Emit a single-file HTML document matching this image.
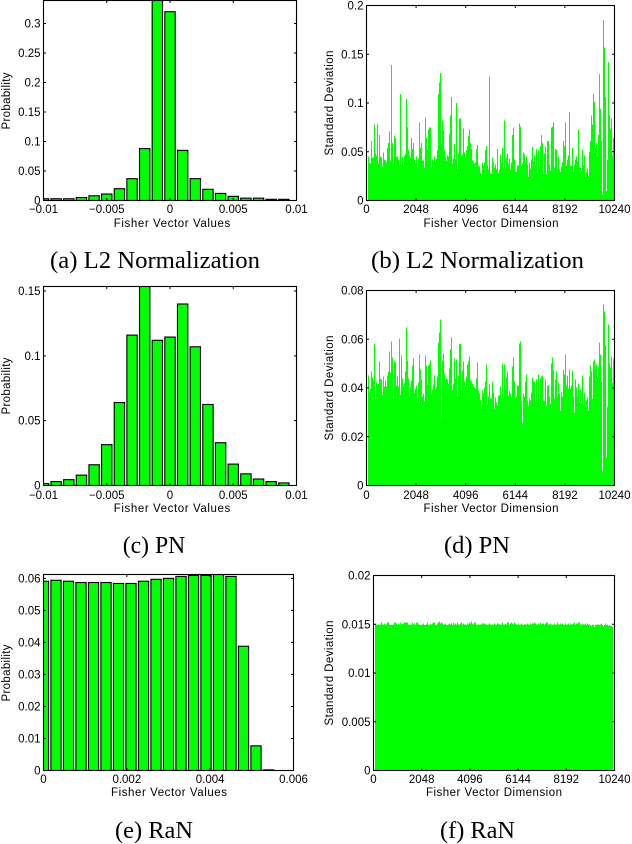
<!DOCTYPE html>
<html lang="en">
<head>
<meta charset="utf-8">
<title>Fisher Vector Normalization Charts</title>
<style>
html,body{margin:0;padding:0;background:#fff;}
svg{display:block;}
.tick{font:11.5px "Liberation Sans",Arial,sans-serif;fill:#000;}
.title{font:11.5px "Liberation Sans",Arial,sans-serif;fill:#000;}
.cap{font:24.5px "Liberation Serif","Times New Roman",serif;fill:#000;}
</style>
</head>
<body>
<svg id="figure" xmlns="http://www.w3.org/2000/svg" width="632" height="844" viewBox="0 0 632 844"></svg>
<script>
// ---------- Data ----------
const binCentersSigned = [-0.010,-0.009,-0.008,-0.007,-0.006,-0.005,-0.004,-0.003,-0.002,-0.001,0,0.001,0.002,0.003,0.004,0.005,0.006,0.007,0.008,0.009];
const binCentersPositive = [0,0.0003,0.0006,0.0009,0.0012,0.0015,0.0018,0.0021,0.0024,0.0027,0.003,0.0033,0.0036,0.0039,0.0042,0.0045,0.0048,0.0051,0.0054];

const probabilityL2 = [0.003,0.003,0.003,0.005,0.008,0.011,0.02,0.037,0.088,0.36,0.32,0.085,0.037,0.019,0.012,0.007,0.004,0.004,0.002,0.002];
const probabilityPN = [0.0015,0.003,0.0045,0.008,0.016,0.0315,0.064,0.116,0.16,0.112,0.1145,0.14,0.107,0.0625,0.033,0.0165,0.009,0.005,0.003,0.002];
const probabilityRaN = [0.0591,0.0594,0.0591,0.0587,0.0587,0.0587,0.0584,0.0584,0.0591,0.0597,0.06,0.0606,0.0609,0.0609,0.0613,0.0606,0.0388,0.0077,0.0002];

const stdL2 = [
.045,.0385,.038,.061,.044,.044,.078,.048,.046,.078,.038,.067,.045,.044,.035,.049,.042,.041,.039,.054,.059,.071,.041,.139,.059,.038,.066,.064,.045,.045,.042,.037,
.109,.037,.045,.036,.046,.048,.104,.075,.052,.046,.044,.064,.053,.059,.042,.038,.045,.034,.043,.08,.054,.059,.041,.041,.034,.085,.064,.052,.073,.075,.075,.034,.042,.041,.045,.039,.043,.052,.109,.121,.131,.058,.082,.072,.052,.045,.041,.046,.045,.068,.087,.106,.038,.043,.058,.042,.1,.032,.048,.084,.084,.045,.047,.074,.049,.044,.052,.056,.066,.073,.059,.053,.041,.04,.038,.039,.053,.057,.036,.035,.028,.027,.039,.036,.039,.052,.056,.037,.032,.127,.028,
.0277,.044,.039,.034,.037,.032,.053,.028,.032,.047,.039,.054,.034,.082,.034,.044,.048,.038,.043,.032,.039,.067,.075,.042,.029,.029,.036,.036,.079,.076,.035,.038,.049,.047,.039,.045,.037,.024,.039,.033,.042,.055,.04,.046,.036,.053,.028,.052,.034,.056,.067,.059,.027,.048,.055,.027,.061,.061,.037,.031,.075,.076,.08,.034,.053,.052,.033,.045,.032,.029,.035,.039,.061,.056,.08,.036,.042,.046,.091,.036,.036,.054,.029,.037,.042,.045,.04,.073,.034,.034,.031,.052,.036,.046,.024,.029,.033,.025,.05,.061,.087,.078,.109,.101,.054,.059,.045,.067,.13,.094,.061,.006,.185,.157,.106,.01,.042,.142,.087,.073,.084,.046,.064
];
const stdPN = [
.0451,.0386,.0398,.0468,.0444,.0431,.058,.0353,.0423,.0411,.0419,.0509,.0439,.0435,.0373,.0447,.0406,.0431,.0406,.0451,.0468,.055,.0464,.0591,.0525,.0353,.0513,.0505,.0411,.0447,.0406,.0603,.0373,.0533,.0439,.0406,.0423,.0468,.0648,.0513,.0439,.0365,.0406,.0431,.0492,.0521,.0382,.0398,.0411,.034,.0423,.0537,.0476,.0435,.0365,.0378,.0345,.0533,.0492,.0414,.0492,.0497,.0513,.0373,.0394,.0414,.0451,.0394,.0406,.0447,.0587,.0628,.0681,.028,.0513,.0541,.046,.0431,.0439,.0435,.0419,.048,.0558,.0607,.0394,.0419,.0521,.0439,.0517,.0365,.0451,.058,.058,.0386,.0472,.0509,.0427,.0406,.0447,.0497,.0509,.0529,.0435,.0427,.0419,.0406,.0402,.0398,.0439,.0505,.039,.0378,.0353,.0316,.039,.0378,.0402,.0427,.0497,.0332,.0365,.0414,.0357,
.0357,.0427,.0382,.0316,.0361,.034,.0328,.0369,.0369,.0406,.0357,.0501,.0361,.0497,.0394,.0443,.0468,.0369,.039,.0378,.0361,.0488,.0525,.0427,.0357,.0365,.041,.041,.0583,.0591,.0349,.0254,.0378,.0365,.0427,.0456,.0349,.0328,.0357,.0349,.0382,.0443,.0427,.0427,.0345,.0435,.034,.0456,.0357,.0439,.0447,.0451,.0349,.0349,.0435,.0328,.041,.041,.0365,.0336,.0501,.0525,.0472,.0357,.0435,.0468,.0365,.0423,.0378,.0308,.0382,.0365,.0476,.0456,.0538,.041,.0451,.0398,.0476,.0398,.041,.0472,.0365,.03,.0435,.0402,.0365,.0418,.034,.0394,.0336,.0451,.0328,.0382,.0324,.0349,.0361,.0308,.0447,.0493,.0468,.0357,.0509,.0517,.048,.0497,.0443,.0488,.0587,.0538,.0427,.0057,.0743,.0714,.0575,.0115,.0324,.0661,.0501,.0484,.053,.0423,.0522
];
const stdRaN = [
.0150,.0150,.0149,.0150,.0149,.0150,.0152,.0150,.0149,.0151,.0150,.0150,.0152,.0152,.0150,.0149,.0149,.0149,.0150,.0152,.0152,.0151,.0149,.0151,.0150,.0152,.0150,.0151,.0151,.0152,.0152,.0152,.0152,.0150,.0149,.0149,.0150,.0152,.0150,.0151,.0149,.0152,.0152,.0150,.0150,.0149,.0149,.0150,.0151,.0149,.0149,.0150,.0152,.0150,.0149,.0151,.0150,.0151,.0152,.0152,.0150,.0149,.0151,.0152,.0153,.0151,.0152,.0151,.0149,.0150,.0151,.0149,.0149,.0150,.0151,.0150,.0151,.0149,.0152,.0150,.0151,.0150,.0152,.0150,.0150,.0151,.0152,.0150,.0151,.0150,.0150,.0149,.0151,.0150,.0152,.0151,.0153,.0151,.0150,.0152,.0152,.0150,.0149,.0150,.0149,.0150,.0150,.0151,.0151,.0151,.0150,.0150,.0149,.0150,.0151,.0150,.0149,.0150,.0149,.0151,
.0150,.0149,.0151,.0151,.0150,.0150,.0149,.0152,.0150,.0150,.0151,.0150,.0152,.0152,.0150,.0151,.0152,.0151,.0150,.0152,.0151,.0150,.0149,.0151,.0149,.0150,.0151,.0149,.0150,.0150,.0150,.0150,.0151,.0150,.0149,.0151,.0150,.0151,.0151,.0152,.0151,.0150,.0150,.0151,.0150,.0152,.0150,.0151,.0151,.0150,.0151,.0152,.0152,.0150,.0150,.0151,.0150,.0149,.0150,.0151,.0149,.0150,.0152,.0150,.0150,.0151,.0150,.0151,.0150,.0149,.0151,.0150,.0150,.0151,.0149,.0151,.0150,.0150,.0151,.0152,.0150,.0151,.0151,.0152,.0152,.0150,.0150,.0151,.0150,.0150,.0151,.0149,.0151,.0150,.0150,.0149,.0148,.0150,.0149,.0147,.0150,.0149,.0150,.0150,.0149,.0150,.0151,.0149,.0148,.0149,.0151,.0149,.0150,.0148,.0149,.0148,.0148,.0147
];

const signedXTicks = [-0.01,-0.005,0,0.005,0.01];
const signedXLabels = ["\u22120.01","\u22120.005","0","0.005","0.01"];
const positiveXTicks = [0,0.002,0.004,0.006];
const positiveXLabels = ["0","0.002","0.004","0.006"];
const dimXTicks = [0,2048,4096,6144,8192,10240];
const dimXLabels = ["0","2048","4096","6144","8192","10240"];

const yTicksA = [0,0.05,0.1,0.15,0.2,0.25,0.3];
const yLabelsA = ["0","0.05","0.1","0.15","0.2","0.25","0.3"];
const yTicksB = [0,0.05,0.1,0.15,0.2];
const yLabelsB = ["0","0.05","0.1","0.15","0.2"];
const yTicksC = [0,0.05,0.1,0.15];
const yLabelsC = ["0","0.05","0.1","0.15"];
const yTicksD = [0,0.02,0.04,0.06,0.08];
const yLabelsD = ["0","0.02","0.04","0.06","0.08"];
const yTicksE = [0,0.01,0.02,0.03,0.04,0.05,0.06];
const yLabelsE = ["0","0.01","0.02","0.03","0.04","0.05","0.06"];
const yTicksF = [0,0.005,0.01,0.015,0.02];
const yLabelsF = ["0","0.005","0.01","0.015","0.02"];

// ---------- Drawing ----------
const NS = "http://www.w3.org/2000/svg";
const root = document.getElementById("figure");

function mk(tag, parent, attrs) {
  const e = document.createElementNS(NS, tag);
  for (const k in attrs) e.setAttribute(k, attrs[k]);
  parent.appendChild(e);
  return e;
}

function drawPanel(p) {
  const g = mk("g", root, {});
  
  
  const sx = v => p.left + (v - p.xMin) / (p.xMax - p.xMin) * (p.right - p.left);
  const sy = v => p.bottom - v / p.yMax * (p.bottom - p.top);

  const clipId = "clip-" + p.id;
  const defs = mk("defs", g, {});
  const cp = mk("clipPath", defs, {id: clipId});
  mk("rect", cp, {x: p.left, y: p.top, width: p.right - p.left, height: p.bottom - p.top});
  const marks = mk("g", g, {"clip-path": "url(#" + clipId + ")"});
  
  

  if (p.kind === "hist") {
    p.values.forEach((v, i) => {
      const c = p.centers[i];
      const x0 = sx(c - p.barWidth / 2), x1 = sx(c + p.barWidth / 2);
      const r = mk("rect", marks, {x: x0, y: sy(v), width: x1 - x0, height: p.bottom - sy(v), fill: "#00ff00", stroke: "#000", "stroke-width": 1.1});
      
      
    });
  } else {
    const step = p.xMax / (p.right - p.left);
    p.values.forEach((v, i) => {
      const dim = (p.firstOffset + i) * step;
      const x0 = Math.round(sx(dim)), x1 = Math.round(sx(dim + step));
      const r = mk("rect", marks, {x: x0, y: sy(v), width: x1 - x0, height: p.bottom - sy(v), fill: "#00ff00", "shape-rendering": "crispEdges"});
      
      
    });
  }

  const frame = mk("rect", g, {x: p.left, y: p.top, width: p.right - p.left, height: p.bottom - p.top, fill: "none", stroke: "#000", "stroke-width": 1.1});
  
  

  const len = 2.5;
  p.xTicks.forEach((t, i) => {
    const x = sx(t);
    const tk = mk("path", g, {d: `M${x} ${p.bottom}V${p.bottom - len}M${x} ${p.top}V${p.top + len}`, stroke: "#000", "stroke-width": 1, fill: "none"});
    
    
    const lb = mk("text", g, {x: x, y: p.xLabelY, "text-anchor": "middle", class: "tick"});
    lb.textContent = p.xLabels[i];
    
    
  });
  p.yTicks.forEach((t, i) => {
    const y = sy(t);
    const tk = mk("path", g, {d: `M${p.left} ${y}H${p.left + len}M${p.right} ${y}H${p.right - len}`, stroke: "#000", "stroke-width": 1, fill: "none"});
    
    
    const lb = mk("text", g, {x: p.left - 3, y: y + 4, "text-anchor": "end", class: "tick"});
    lb.textContent = p.yLabels[i];
    
    
  });

  const xt = mk("text", g, {x: p.xTitleX, y: p.xTitleY, "text-anchor": "middle", class: "title", textLength: p.xTitleLen, lengthAdjust: "spacing"});
  xt.textContent = p.xTitle;
  
  

  const yt = mk("text", g, {x: 0, y: 0, "text-anchor": "middle", class: "title", textLength: p.yTitleLen, lengthAdjust: "spacing", transform: `translate(${p.yTitleX} ${p.yTitleY}) rotate(-90)`});
  yt.textContent = p.yTitle;
  
  

  const cap = mk("text", g, {x: p.capX, y: p.capY, "text-anchor": "middle", class: "cap", textLength: p.capLen, lengthAdjust: "spacingAndGlyphs"});
  cap.textContent = p.caption;
  
  
}

const xv = "Fisher Vector Values", xd = "Fisher Vector Dimension", yp = "Probability", ys = "Standard Deviation";

drawPanel({id:"a",kind:"hist",left:43.5,right:296.5,top:0.5,bottom:200.5,xMin:-0.01,xMax:0.01,yMax:0.339,centers:binCentersSigned,values:probabilityL2,barWidth:0.00082,xTicks:signedXTicks,xLabels:signedXLabels,yTicks:yTicksA,yLabels:yLabelsA,xLabelY:213,xTitle:xv,xTitleX:172,xTitleY:227,xTitleLen:116.5,yTitle:yp,yTitleX:10,yTitleY:101,yTitleLen:57,caption:"(a) L2 Normalization",capX:155,capY:268,capLen:210});
drawPanel({id:"b",kind:"std",left:366.5,right:614.5,top:5.5,bottom:200.5,xMin:0,xMax:10240,yMax:0.2,firstOffset:1.5,values:stdL2,xTicks:dimXTicks,xLabels:dimXLabels,yTicks:yTicksB,yLabels:yLabelsB,xLabelY:213,xTitle:xd,xTitleX:491,xTitleY:227,xTitleLen:135,yTitle:ys,yTitleX:333,yTitleY:103,yTitleLen:105,caption:"(b) L2 Normalization",capX:477.5,capY:268,capLen:213});
drawPanel({id:"c",kind:"hist",left:43.5,right:296.5,top:286.5,bottom:485.5,xMin:-0.01,xMax:0.01,yMax:0.1535,centers:binCentersSigned,values:probabilityPN,barWidth:0.00082,xTicks:signedXTicks,xLabels:signedXLabels,yTicks:yTicksC,yLabels:yLabelsC,xLabelY:499,xTitle:xv,xTitleX:172,xTitleY:512,xTitleLen:116.5,yTitle:yp,yTitleX:10,yTitleY:386,yTitleLen:57,caption:"(c) PN",capX:154,capY:553,capLen:62.5});
drawPanel({id:"d",kind:"std",left:366.5,right:614.5,top:290.5,bottom:485.5,xMin:0,xMax:10240,yMax:0.08,firstOffset:1.5,values:stdPN,xTicks:dimXTicks,xLabels:dimXLabels,yTicks:yTicksD,yLabels:yLabelsD,xLabelY:499,xTitle:xd,xTitleX:491,xTitleY:512,xTitleLen:135,yTitle:ys,yTitleX:333,yTitleY:388,yTitleLen:105,caption:"(d) PN",capX:477,capY:553,capLen:66});
drawPanel({id:"e",kind:"hist",left:43.5,right:293.5,top:574.5,bottom:770.5,xMin:0,xMax:0.006,yMax:0.0612,centers:binCentersPositive,values:probabilityRaN,barWidth:0.000245,xTicks:positiveXTicks,xLabels:positiveXLabels,yTicks:yTicksE,yLabels:yLabelsE,xLabelY:783,xTitle:xv,xTitleX:169,xTitleY:796,xTitleLen:116,yTitle:yp,yTitleX:10,yTitleY:673,yTitleLen:57,caption:"(e) RaN",capX:154,capY:838,capLen:78});
drawPanel({id:"f",kind:"std",left:373.5,right:614.5,top:575.5,bottom:770.5,xMin:0,xMax:10240,yMax:0.02,firstOffset:1.5,values:stdRaN,xTicks:dimXTicks,xLabels:dimXLabels,yTicks:yTicksF,yLabels:yLabelsF,xLabelY:783,xTitle:xd,xTitleX:494,xTitleY:796,xTitleLen:136,yTitle:ys,yTitleX:333,yTitleY:673,yTitleLen:105,caption:"(f) RaN",capX:477.5,capY:838,capLen:75});
</script>
</body>
</html>
